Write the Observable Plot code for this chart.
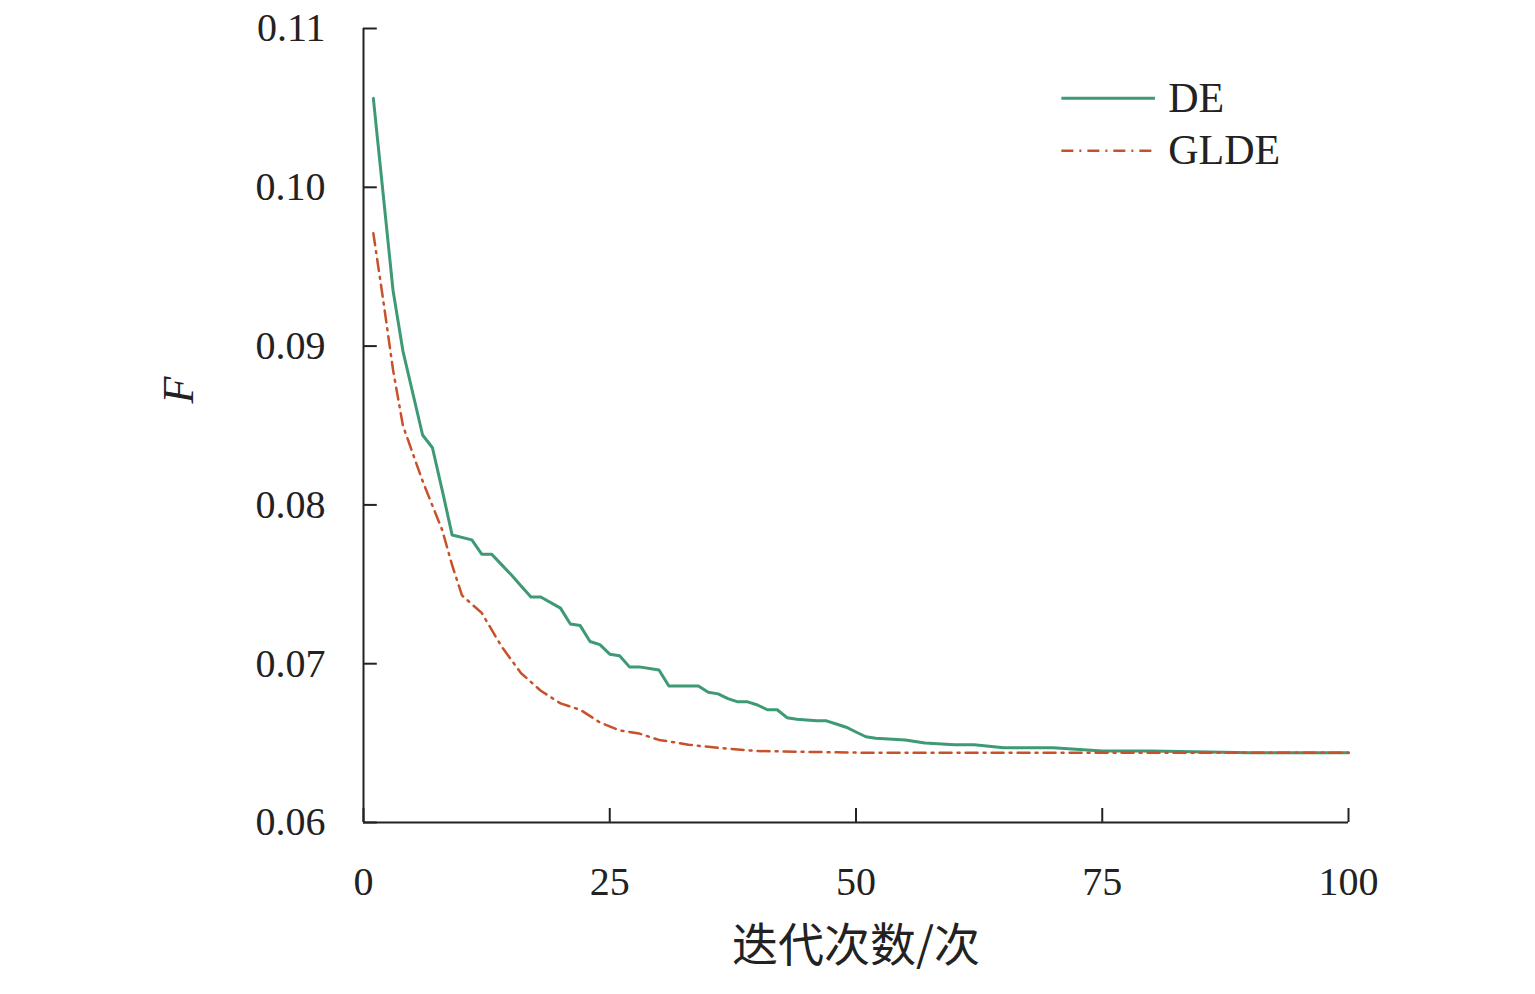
<!DOCTYPE html>
<html><head><meta charset="utf-8">
<script src="https://cdn.jsdelivr.net/npm/d3@7"></script>
<script src="https://cdn.jsdelivr.net/npm/@observablehq/plot@0.6"></script>
<style>body{margin:0;background:#fff}</style>
</head><body><div id="c"></div>
<script>
const deX=[1,3,4,6,7,8,9,11,12,13,15,16,17,18,20,21,22,23,24,25,26,27,28,30,31,34,35,36,37,38,39,40,41,42,43,44,46,47,48,49,50,51,52,55,57,60,62,65,70,75,80,90,100];
const deY=[0.1056,0.0935,0.0897,0.0844,0.0836,0.0809,0.0781,0.0778,0.0769,0.0769,0.0756,0.0749,0.0742,0.0742,0.0735,0.0725,0.0724,0.0714,0.0712,0.0706,0.0705,0.0698,0.0698,0.0696,0.0686,0.0686,0.0682,0.0681,0.0678,0.0676,0.0676,0.0674,0.0671,0.0671,0.0666,0.0665,0.0664,0.0664,0.0662,0.0660,0.0657,0.0654,0.0653,0.0652,0.0650,0.0649,0.0649,0.0647,0.0647,0.0645,0.0645,0.0644,0.0644];
const gX=[1,2,3,4,6,8,9,10,12,14,16,18,20,22,24,26,28,30,33,36,40,50,60,100];
const gY=[0.0971,0.0929,0.0885,0.0850,0.0815,0.0784,0.0762,0.0743,0.0732,0.0711,0.0694,0.0683,0.0675,0.0671,0.0663,0.0658,0.0656,0.0652,0.0649,0.0647,0.0645,0.0644,0.0644,0.0644];
const xTicks=[0,25,50,75,100];
const yTicks=[0.06,0.07,0.08,0.09,0.10,0.11];
const de=deX.map((x,i)=>({x,y:deY[i]}));
const gl=gX.map((x,i)=>({x,y:gY[i]}));
const green="#3d9a74", red="#c8502a";
const plot=Plot.plot({
  width:1535,height:994,marginLeft:363,marginRight:187,marginTop:28,marginBottom:172,
  style:{fontFamily:"Liberation Serif",fontSize:"40px",color:"#222",background:"#fff"},
  x:{domain:[0,100]},y:{domain:[0.06,0.11]},
  marks:[
    Plot.axisX({ticks:xTicks,tickSize:0,tickPadding:44,fontSize:40,label:null}),
    Plot.axisY({ticks:yTicks,tickSize:0,tickPadding:38,tickFormat:d=>d.toFixed(2),fontSize:40,label:null}),
    Plot.ruleX(xTicks,{x:d=>d,y1:0.06,y2:0.06+14/15880,stroke:"#222",strokeWidth:2}),
    Plot.ruleY(yTicks,{y:d=>d,x1:0,x2:1.4,stroke:"#222",strokeWidth:2}),
    Plot.ruleX([0],{stroke:"#222",strokeWidth:2}),
    Plot.ruleY([0.06],{stroke:"#222",strokeWidth:2}),
    Plot.line(de,{x:"x",y:"y",stroke:green,strokeWidth:3}),
    Plot.line(gl,{x:"x",y:"y",stroke:red,strokeWidth:2.5,strokeDasharray:"12,6,2,6"}),
    Plot.ruleY([0.1056],{x1:70.9,x2:80.4,stroke:green,strokeWidth:3}),
    Plot.ruleY([0.1023],{x1:70.9,x2:80.4,stroke:red,strokeWidth:2.5,strokeDasharray:"12,6,2,6"}),
    Plot.text(["DE","GLDE"],{x:81.7,y:(d,i)=>[0.1056,0.1023][i],text:d=>d,textAnchor:"start",fontSize:42,fill:"#222"}),
    Plot.text(["F"],{frameAnchor:"left",dx:-185,dy:-22,text:d=>d,rotate:-90,fontSize:44,fontStyle:"italic",fill:"#222"}),
    Plot.text(["迭代次数/次"],{frameAnchor:"bottom",dy:138,text:d=>d,fontSize:46,fontFamily:"Noto Sans CJK SC",fill:"#222"})
  ]
});
document.getElementById("c").append(plot);
</script></body></html>
